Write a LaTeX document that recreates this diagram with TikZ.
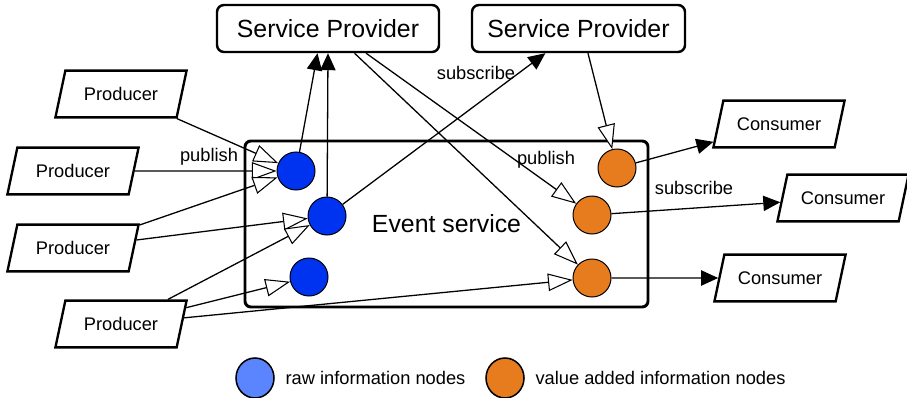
\documentclass[tikz,border=0pt]{standalone}
\usepackage{fontspec}
\setmainfont{Liberation Sans}
\usetikzlibrary{arrows.meta,shapes.geometric}

\definecolor{rawblue}{HTML}{0033F0}
\definecolor{legblue}{HTML}{5B85FF}
\definecolor{addorange}{HTML}{E67C1E}

\begin{document}
\begin{tikzpicture}[x=0.03cm,y=-0.03cm,line width=1.1pt,
  small/.style={font=\fontsize{15.6}{18}\selectfont},
  big/.style={font=\fontsize{21.2}{25}\selectfont},
  party/.style={small,draw,line width=2pt,trapezium,trapezium left angle=78,
    trapezium right angle=102,trapezium stretches=false,align=center,
    text width=88pt,text height=11.5pt,text depth=0pt,
    inner xsep=3.5pt,inner ysep=14.2pt},
  provider/.style={big,draw,line width=2.1pt,rounded corners=6pt,
    minimum height=1.41cm,inner sep=0pt},
  raw/.style={circle,draw,line width=0.85pt,fill=rawblue,minimum size=1.14cm,inner sep=0pt},
  added/.style={raw,fill=addorange}]
\useasboundingbox (0,0) rectangle (907,398);
  \node[provider,minimum width=6.66cm] (SP1) at (328,28.5) {Service Provider};
  \node[provider,minimum width=6.39cm] (SP2) at (578.5,28.5) {Service Provider};
  \node[big,draw,line width=2.5pt,rounded corners=5pt,minimum width=12.09cm,
    minimum height=4.98cm] (ES) at (446.5,224) {Event service};
  \node[party] (P1) at (121,94)  {Producer};
  \node[party] (P2) at (73,171)  {Producer};
  \node[party] (P3) at (73,248)  {Producer};
  \node[party] (P4) at (121,324) {Producer};
  \node[party] (C1) at (779,124) {Consumer};
  \node[party] (C2) at (843,198) {Consumer};
  \node[party] (C3) at (780,278) {Consumer};
  \node[raw]   (B1) at (296,171) {};
  \node[raw]   (B2) at (327,216) {};
  \node[raw]   (B3) at (309,277) {};
  \node[added] (O1) at (617,168) {};
  \node[added] (O2) at (592,215) {};
  \node[added] (O3) at (592,278) {};
  \node[small] (pubL) at (209,157) {publish};
  \node[small] (pubR) at (546,160) {publish};
  \node[small] (subT) at (476,73)  {subscribe};
  \node[small] (subR) at (694,188) {subscribe};
\tikzset{flow/.style={-{Triangle[length=21pt,width=15pt,fill=white,line width=0.9pt]}}}
\path (P1)      edge [flow] (B1)
      (P2)      edge [flow] (B1)
      (P3)      edge [flow] (B1)
      (P3)      edge [flow] (B2)
      (P4)      edge [flow] (B2)
      (P4)      edge [flow] (B3)
      (P4)      edge [flow] (O3)
      (SP1.-43) edge [flow] (O3)
      (SP1.-33) edge [flow] (O2)
      (SP2.-69) edge [flow] (O1);
\tikzset{flow/.style={-{Triangle[length=14.5pt,width=13pt]}}}
\path (B1)      edge [flow] (SP1.-113)
      (B2)      edge [flow] (SP1.south)
      (B2)      edge [flow] (SP2)
      (O1)      edge [flow] (C1)
      (O2)      edge [flow] (C2)
      (O3)      edge [flow] (C3);
% legend
  \node[ellipse,draw,line width=1.3pt,fill=legblue,minimum width=1.14cm,
    minimum height=1.2cm] (Lraw) at (255,378) {};
  \node[small,anchor=west] (LrawT) at (281,378) {raw information nodes};
  \node[ellipse,draw,line width=1.3pt,fill=addorange,minimum width=1.14cm,
    minimum height=1.2cm] (Ladd) at (505,378) {};
  \node[small,anchor=west] (LaddT) at (531,378) {value added information nodes};
\end{tikzpicture}
\end{document}
